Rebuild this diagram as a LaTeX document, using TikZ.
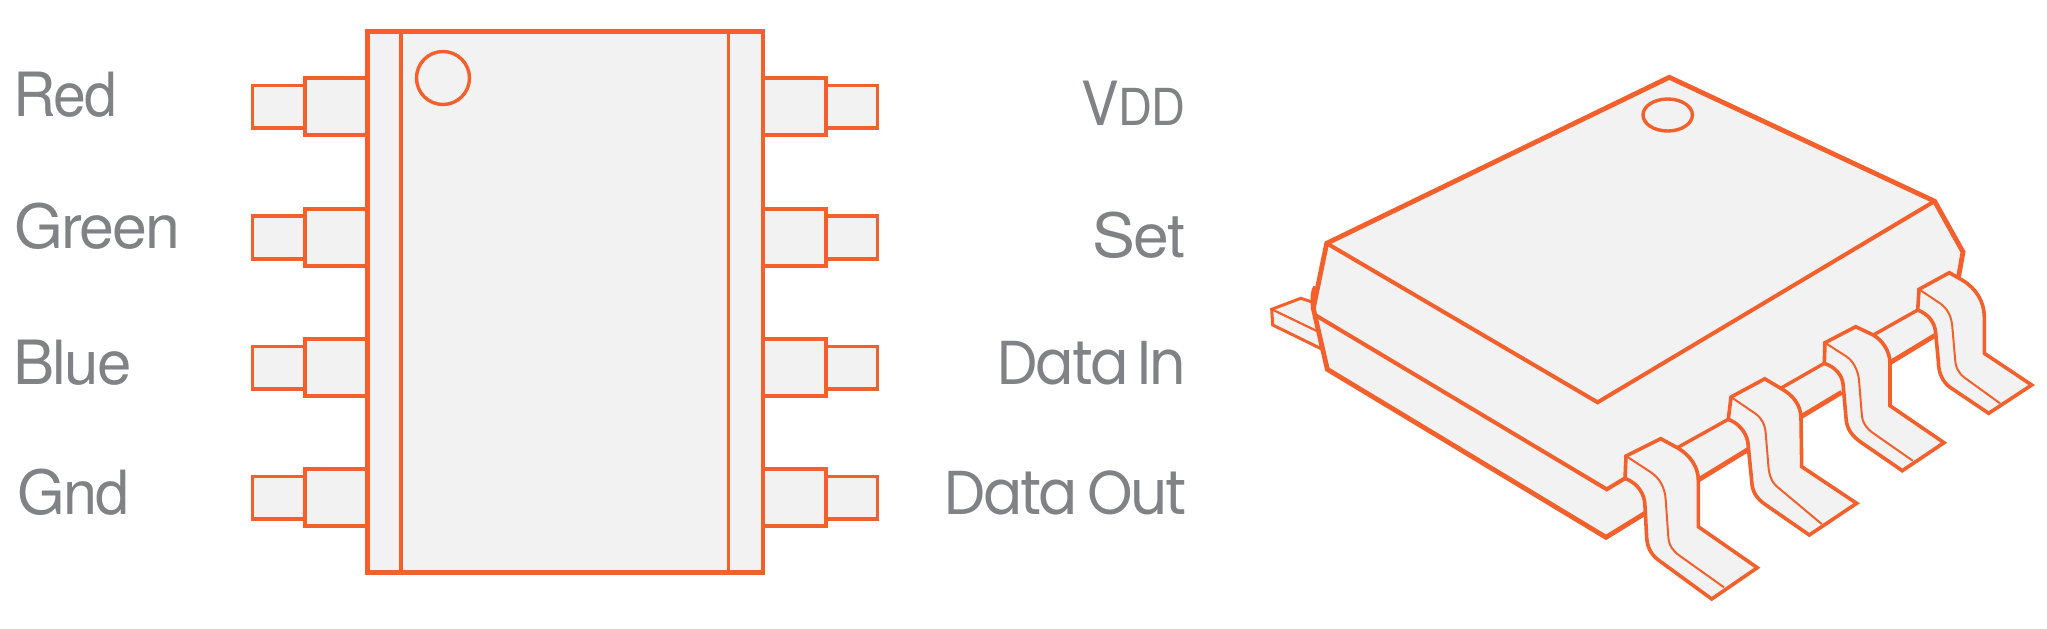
\documentclass[tikz,border=0pt]{standalone}
\usepackage{fontspec}
\setmainfont{TeX Gyre Heros}[LetterSpace=-3]
\newfontfamily\roundfont{Poppins}[LetterSpace=-4,WordSpace=0.7]
\definecolor{chipline}{HTML}{F4602B}
\definecolor{chipfill}{HTML}{F2F2F2}
\definecolor{labelgray}{HTML}{808285}
\newcommand{\fitlabel}[2]{\resizebox{#1}{\height}{\fontsize{30.5pt}{31pt}\selectfont #2}}
\newcommand{\fitround}[2]{\resizebox{#1}{\height}{\roundfont\fontsize{31pt}{32pt}\selectfont #2}}
\tikzset{
  outline/.style={draw=chipline,line join=miter,line width=2.4pt},
  pinline/.style={draw=chipline,fill=chipfill,line width=1.8pt},
  thinline/.style={draw=chipline,line width=1.7pt},
  hairline/.style={draw=chipline,line width=1pt},
  leadline/.style={draw=chipline,fill=chipfill,line width=1.8pt,line join=miter},
  pinlabel/.style={anchor=base west,inner sep=0pt,text=labelgray}
}
\begin{document}
\begin{tikzpicture}[x=0.5pt,y=-0.5pt]
\useasboundingbox (0,0) rectangle (2047,628);
% plan view
\fill[chipfill] (367.3,31.7) rectangle (762.9,572.3);
\foreach \d in {0,130.7,261,391}{
  \draw[pinline] (252.4,85.3+\d) rectangle (305,128+\d);
  \draw[pinline] (305,78+\d) rectangle (367.3,135+\d);
  \draw[pinline] (877.5,85.3+\d) rectangle (825.7,128+\d);
  \draw[pinline] (825.7,78+\d) rectangle (762.9,135+\d);
}
\draw[thinline] (401,31.7) -- (401,572.3);
\draw[thinline] (728.6,31.7) -- (728.6,572.3);
\draw[outline] (367.3,31.7) rectangle (762.9,572.3);
\draw[thinline] (443,78) circle[radius=26.5];
% labels
\node[pinlabel] (red) at (13,116) {\fitlabel{52pt}{Red}};
\node[pinlabel] (green) at (14,248.5) {\fitlabel{83pt}{Green}};
\node[pinlabel] (blue) at (13,384) {\fitlabel{59pt}{Blue}};
\node[pinlabel] (gnd) at (17,514.5) {\fitlabel{56pt}{Gnd}};
\node[pinlabel] (vdd) at (1081,125) {\fitlabel{52pt}{V{\fontsize{25.5pt}{26pt}\selectfont DD}}};
\node[pinlabel] (set) at (1092.5,257.5) {\fitlabel{46pt}{Set}};
\node[pinlabel] (datain) at (997.5,384) {\fitround{94pt}{Data In}};
\node[pinlabel] (dataout) at (944,514.5) {\fitround{121pt}{Data Out}};
% package view: rear lead
\draw[leadline,line width=1.5pt] (1313.3,302.3) -- (1300.7,298.3) -- (1271.7,309.3) -- (1272.7,325) -- (1321.7,349) -- cycle;
\draw[hairline,line width=1.1pt] (1271.7,309.3) -- (1318.3,331.7);
% package body
\fill[chipfill] (1326.7,243.3) -- (1669.3,77.3) -- (1934.6,201.2) -- (1963,252) -- (1958.3,278.3) -- (1935.7,335) -- (1606,537.3) -- (1327.3,369.3) -- (1313.3,308.3) -- cycle;
\draw[outline] (1315.7,286.7) .. controls (1313,291) and (1312.5,296) .. (1313.3,308.3);
\draw[outline] (1958.3,278.3) -- (1963,252) -- (1934.6,201.2) -- (1669.3,77.3) -- (1326.7,243.3) -- (1313.3,308.3) -- (1327.3,369.3) -- (1606,537.3) -- (1645,513.3);
\draw[thinline,line width=2pt] (1326.7,243.3) -- (1597.6,402.3) -- (1934.6,201.2);
\draw[thinline,line width=2pt] (1316,315.5) -- (1606.7,489.3) -- (1625,478.3);
\draw[thinline] (1677.3,447.7) -- (1728.3,419.3);
\draw[outline] (1698.3,480) -- (1749,449);
\draw[thinline] (1780.7,388.3) -- (1824.3,363.3);
\draw[outline] (1801,416.7) -- (1841.7,392.3);
\draw[thinline] (1873.3,335) -- (1917.7,310);
\draw[outline] (1890,362.7) -- (1935.7,335);
% front leads
\draw[leadline] (1626,456) -- (1660.7,438.7) -- (1677.3,447.7) .. controls (1690,455) and (1698.3,467) .. (1698.3,480) -- (1698.3,526.7) -- (1757.3,567.7) -- (1711.7,599) -- (1662,562.7) .. controls (1652,556) and (1647.5,549) .. (1646.7,538) -- (1645,506.7) .. controls (1645,493) and (1637,483) .. (1625,478.3) -- cycle;
\draw[hairline] (1626,456) -- (1650,471.7) .. controls (1660,478) and (1665,488) .. (1665.7,500) -- (1668.3,536.7) .. controls (1669,546) and (1673,551) .. (1680,556) -- (1724,587.3);
\draw[leadline] (1731,397) -- (1764.8,378.8) -- (1780.7,388.3) .. controls (1793,395) and (1801,405) .. (1801,418.3) -- (1801.7,466.7) -- (1856.7,503.3) -- (1809.3,535) -- (1766,505) .. controls (1757,499) and (1752,492) .. (1751.7,481) -- (1748.3,446.7) .. controls (1748,434) and (1740,424) .. (1728.3,419.3) -- cycle;
\draw[hairline] (1731,397) -- (1755,413.3) .. controls (1762,418) and (1765,425) .. (1765.7,433.3) -- (1768.3,465) .. controls (1769,476) and (1772,483) .. (1779,488.3) -- (1821.7,524);
\draw[leadline] (1825,342.7) -- (1855.7,326.7) -- (1873.3,335) .. controls (1882,340) and (1890,351) .. (1890,363.3) -- (1890,405.7) -- (1944,442.7) -- (1902.3,470.7) -- (1862,443) .. controls (1852,436) and (1846.5,429) .. (1846,418) -- (1843.3,386.7) .. controls (1843,375) and (1835,367) .. (1824.3,363.3) -- cycle;
\draw[hairline] (1825,342.7) -- (1846.7,356.7) .. controls (1853,361) and (1858,370) .. (1859,380) -- (1861.7,413.3) .. controls (1862,422) and (1866,428) .. (1873,433) -- (1912.7,460.7);
\draw[leadline] (1919,289.3) -- (1949.3,272.7) -- (1962,280) .. controls (1976,288) and (1984.3,302) .. (1984.3,316.7) -- (1984.3,353.3) -- (2031.7,385) -- (1988.7,413.3) -- (1950,387.3) .. controls (1942,381) and (1938.6,373) .. (1938.3,361) -- (1935.7,333.3) .. controls (1935,322) and (1928,314) .. (1917.7,310) -- cycle;
\draw[hairline] (1919,289.3) -- (1940,303.3) .. controls (1947,308) and (1951.5,316) .. (1952.3,326.7) -- (1955,358) .. controls (1955.5,367) and (1958,373) .. (1965,378) -- (2000,403.3);
% pin-1 mark
\draw[thinline] (1667.7,115) ellipse[x radius=24.7,y radius=16];
\end{tikzpicture}
\end{document}
